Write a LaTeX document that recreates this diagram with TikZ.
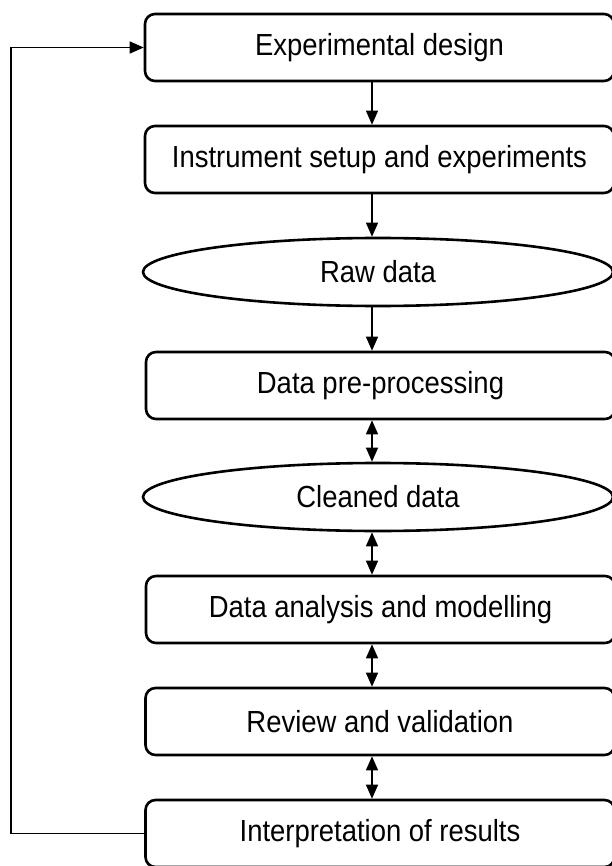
\documentclass[tikz,border=0pt]{standalone}
\usepackage{fontspec}
\setmainfont[FakeStretch=0.9]{Liberation Sans}
\usetikzlibrary{arrows.meta,shapes.geometric}

\tikzset{
  stepbox/.style={draw, line width=2.6pt, rounded corners=10pt,
    minimum width=469pt, minimum height=67pt, inner sep=0pt,
    font=\fontsize{30.5}{34}\selectfont},
  databox/.style={draw, ellipse, line width=2.6pt,
    minimum width=470pt, minimum height=68pt, inner sep=0pt,
    font=\fontsize{30.5}{34}\selectfont},
  arr/.style={line width=1.3pt, -{Triangle[length=14pt,width=12pt]}},
  dblarr/.style={line width=1.3pt, {Triangle[length=14pt,width=12pt]}-{Triangle[length=14pt,width=12pt]}},
  backline/.style={line width=1.5pt, -{Triangle[length=14pt,width=12pt]}}
}

\begin{document}
\begin{tikzpicture}[x=1pt,y=-1pt]
  \useasboundingbox (0,0) rectangle (612,866);
  \clip (0,0) rectangle (612,866);
  \fill[white] (0,0) rectangle (612,866);

  % process steps and data stores
  \node[stepbox] (design)  at (379.5,47.5)  {Experimental design};
  \node[stepbox] (setup)   at (379.5,159.5) {Instrument setup and experiments};
  \node[databox] (raw)     at (378,272)     {Raw data};
  \node[stepbox] (prep)    at (380.5,385.5) {Data pre-processing};
  \node[databox] (clean)   at (378,497)     {Cleaned data};
  \node[stepbox] (analysis) at (380.5,609.5) {Data analysis and modelling};
  \node[stepbox] (review)  at (380,721.5)   {Review and validation};
  \node[stepbox] (interp)  at (380,833.5)   {Interpretation of results};

  % vertical axis of the connectors
  \coordinate (ax) at (372,0);
  % corner of the feedback loop
  \coordinate (loopx) at (11,0);

  \draw[arr] (design.south -| ax) -- (setup.north -| ax);
  \draw[arr] (setup.south -| ax) -- (raw.north -| ax);
  \draw[arr] (raw.south -| ax) -- (prep.north -| ax);
  \draw[dblarr] (prep.south -| ax) -- (clean.north -| ax);
  \draw[dblarr] (clean.south -| ax) -- (analysis.north -| ax);
  \draw[dblarr] (analysis.south -| ax) -- (review.north -| ax);
  \draw[dblarr] (review.south -| ax) -- (interp.north -| ax);

  % feedback from the results back to the design
  \draw[backline] (interp.west) -- (interp.west -| loopx) -- (design.west -| loopx) -- (design.west);
\end{tikzpicture}
\end{document}
